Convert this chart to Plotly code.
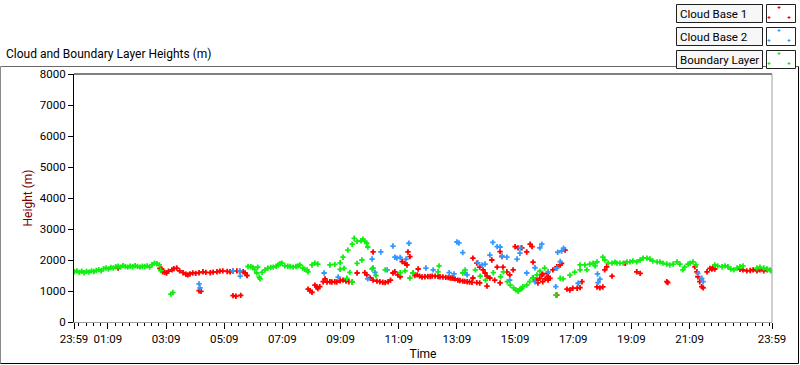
import plotly.graph_objects as go
import pandas as pd

# ---------------- data ----------------
DAY0 = "2020-01-01"
DAY1 = "2020-01-02"

series_names = ["Cloud Base 1", "Cloud Base 2", "Boundary Layer"]
series_colors = ["#ff0000", "#3399ff", "#11ee11"]

y_tick_values = [0, 1000, 2000, 3000, 4000, 5000, 6000, 7000, 8000]
x_tick_labels = ["23:59", "01:09", "03:09", "05:09", "07:09", "09:09", "11:09",
                 "13:09", "15:09", "17:09", "19:09", "21:09", "23:59"]

# Boundary Layer (green)
bl_times = [
    "00:00", "00:05", "00:10", "00:15", "00:20", "00:25", "00:30", "00:35", "00:40", "00:45",
    "00:50", "00:55", "01:00", "01:05", "01:10", "01:15", "01:20", "01:25", "01:30", "01:35",
    "01:40", "01:45", "01:50", "01:55", "02:00", "02:05", "02:10", "02:15", "02:20", "02:25",
    "02:30", "02:35", "02:40", "02:45", "02:50", "02:55", "02:58",
    "03:19", "03:23",
    "05:58", "06:04", "06:08", "06:12", "06:16", "06:18", "06:21", "06:23", "06:27", "06:33",
    "06:39", "06:45", "06:50", "06:56", "07:00", "07:04", "07:08", "07:14", "07:20", "07:25",
    "07:31", "07:37", "07:41", "07:45", "07:51", "07:55", "08:00", "08:02", "08:10", "08:16",
    "08:22",
    "08:47", "08:57", "09:08", "09:14", "09:24", "09:33", "09:37", "09:43", "09:51", "09:55",
    "09:59", "10:03", "10:05",
    "09:08", "09:16", "09:22", "09:28", "09:33", "09:43", "09:53", "10:14", "10:22",
    "10:41", "11:12", "11:22", "11:32", "11:38", "12:30", "12:32", "13:21", "13:26",
    "13:47", "13:57", "14:08", "14:24", "14:39", "14:45", "14:53", "14:59", "15:06", "15:10",
    "15:14", "15:16", "15:19", "15:23", "15:25", "15:33", "15:39", "15:45", "15:54", "16:00",
    "16:10",
    "16:33", "16:42", "16:48", "17:02", "17:12", "17:23", "17:23", "17:33", "17:37", "17:43",
    "17:50", "17:54", "17:58", "18:10", "18:14", "18:21", "18:29", "18:35", "18:39", "18:45",
    "18:52", "19:00", "19:06", "19:12", "19:20", "19:27", "19:33", "19:41", "19:47", "19:53",
    "20:02", "20:08", "20:14", "20:22", "20:28", "20:35", "20:43", "20:49", "20:55", "20:59",
    "21:06", "21:10", "21:16", "21:22",
    "22:01", "22:07", "22:16", "22:22", "22:28", "22:34", "22:40", "22:47", "22:53", "22:59",
    "23:28", "23:34", "23:42", "23:49", "23:55", "23:57",
]
bl_heights = [
    1620, 1650, 1600, 1640, 1590, 1630, 1610, 1650, 1630, 1660,
    1690, 1650, 1720, 1740, 1710, 1760, 1740, 1780, 1800, 1770,
    1820, 1790, 1770, 1800, 1780, 1820, 1790, 1770, 1800, 1790,
    1810, 1770, 1850, 1900, 1880, 1840, 1660,
    900, 950,
    1790, 1780, 1760, 1700, 1580, 1770, 1450, 1390, 1600, 1680,
    1740, 1760, 1770, 1800, 1840, 1880, 1900, 1810, 1800, 1790,
    1770, 1790, 1810, 1840, 1740, 1700, 1680, 1620, 1840, 1900,
    1870,
    1840, 1860, 1910, 2090, 2320, 2510, 2700, 2600, 2620, 2670,
    2600, 2540, 2420,
    1700, 1730, 1410, 1600, 1290, 1890, 2000, 1710, 1500,
    1680, 1590, 1650, 1420, 1580, 1620, 1810, 1580, 1680,
    1680, 1480, 1350, 1590, 1460, 1620, 1300, 1190, 1100, 1040,
    1010, 1000, 1060, 1080, 1140, 1190, 1300, 1420, 1520, 1640,
    1740,
    870, 1410, 1390, 1510, 1610, 1840, 1680, 1840, 1680, 1870,
    1900, 1810, 1940, 2090, 2000, 1900, 1900, 1930, 1900, 1900,
    1900, 1940, 1940, 1970, 1940, 2000, 2060, 2060, 2030, 1970,
    1940, 1940, 1900, 1870, 1840, 1870, 1940, 1870, 1680, 1770,
    1870, 1900, 1940, 1840,
    1840, 1810, 1780, 1810, 1780, 1710, 1680, 1740, 1780, 1810,
    1740, 1770, 1740, 1710, 1680, 1650,
]

# Cloud Base 1 (red)
cb1_times = [
    "01:30",
    "02:56", "03:00", "03:02", "03:06", "03:10", "03:14", "03:21", "03:25", "03:31", "03:37",
    "03:44", "03:50", "03:54", "03:58", "04:04", "04:10", "04:17", "04:25", "04:31", "04:40",
    "04:46", "04:54", "05:00", "05:06", "05:15", "05:21", "05:27", "05:35", "05:41", "05:48",
    "05:52", "05:56",
    "04:17", "04:21", "05:27", "05:33", "05:43",
    "08:02", "08:06", "08:10", "08:16", "08:20", "08:22", "08:26", "08:33", "08:37", "08:41",
    "08:47", "08:51", "08:57", "09:01", "09:08", "09:14", "09:20", "09:26",
    "09:33", "09:43", "09:59", "10:03", "10:10", "10:16", "10:16", "10:24", "10:30", "10:36",
    "10:41", "10:47", "10:52", "10:57", "11:01", "11:07", "11:12", "11:16", "11:22", "11:26",
    "11:28", "11:32", "11:38", "11:42", "11:47", "11:49", "11:52", "11:57", "12:03", "12:09",
    "12:14", "12:18", "12:24", "12:30", "12:34", "12:40", "12:46", "12:51", "12:55", "12:59",
    "13:01", "13:05", "13:11", "13:15", "13:21", "13:25", "13:30", "13:35", "13:40",
    "13:42", "13:42", "13:50", "13:50", "13:56", "13:56", "14:03", "14:07", "14:11", "14:11",
    "14:17", "14:21", "14:27", "14:32", "14:38", "14:38", "14:42", "14:44", "14:52", "14:58",
    "15:05", "15:09", "15:15", "15:23", "15:33", "15:40", "15:44", "15:46", "15:46", "15:54",
    "15:56", "16:04", "16:11", "16:17",
    "16:00", "16:06", "16:06", "16:15", "16:17", "16:21", "16:27", "16:35", "16:35", "16:42",
    "16:45", "16:52", "16:56", "17:02", "17:08", "17:17", "17:23", "17:27", "17:58", "18:04",
    "18:10", "18:14", "18:18", "18:29", "18:56", "19:20", "19:27", "20:22", "20:24",
    "21:20", "21:24", "21:26", "21:30", "21:34", "21:37", "21:45", "21:51", "21:55", "21:57",
    "22:01", "22:53", "22:59", "23:07", "23:14", "23:20", "23:28", "23:34", "23:42", "23:49",
]
cb1_heights = [
    1740,
    1730, 1710, 1620, 1600, 1580, 1640, 1680, 1720, 1740, 1650,
    1590, 1540, 1520, 1550, 1580, 1570, 1590, 1620, 1600, 1590,
    1610, 1620, 1640, 1650, 1630, 1620, 1640, 1650, 1630, 1620,
    1580, 1500,
    1010, 990, 850, 830, 860,
    1060, 1010, 960, 1190, 1130, 1080, 1140, 1300, 1390, 1290,
    1300, 1290, 1300, 1290, 1330, 1350, 1320, 1300,
    1290, 1580, 1590, 1520, 1420, 2260, 1350, 1320, 1300, 1280,
    1270, 1300, 1350, 1580, 1620, 1520, 1460, 1950, 1890, 1840,
    2260, 2110, 1580, 1500, 1520, 1710, 1480, 1450, 1460, 1470,
    1470, 1480, 1480, 1470, 1460, 1450, 1440, 1430, 1420, 1420,
    1410, 1390, 1350, 1340, 1320, 1310, 1300, 1290, 1280,
    2060, 1420, 1900, 1270, 1770, 1260, 1680, 1580, 1480, 1160,
    1420, 2000, 1350, 1770, 2270, 1260, 2110, 1770, 1620, 1520,
    1680, 2430, 2390, 2390, 2260, 2510, 2430, 1930, 1420, 1350,
    1260, 1520, 1390, 1460,
    1410, 1540, 1300, 1570, 1350, 1410, 1680, 1780, 870, 1840,
    1890, 2320, 1060, 1030, 1090, 1090, 1110, 1300, 1130, 1100,
    1130, 1680, 1780, 1480, 1890, 1620, 1570, 1300, 1270,
    1780, 1620, 1460, 1300, 1140, 1100, 1620, 1730, 1710, 1740,
    1710, 1700, 1680, 1650, 1660, 1680, 1650, 1680, 1650, 1680,
]

# Cloud Base 2 (blue)
cb2_times = [
    "04:17", "04:19", "05:27", "05:41", "05:42",
    "08:35", "09:04", "10:05", "10:14", "10:16", "10:20", "10:32", "10:45", "10:57", "11:01",
    "11:05", "11:12", "11:24", "11:30", "12:05", "12:20", "12:53", "13:03", "13:09", "13:13",
    "13:21", "13:26", "13:30",
    "13:52", "14:01", "14:07", "14:17", "14:23", "14:32", "14:38", "14:42", "14:52", "14:58",
    "15:13", "15:19", "15:20", "15:33", "15:50", "15:50", "16:00", "16:04", "16:17",
    "16:33", "16:35", "16:37", "16:42", "16:45", "16:49", "17:19", "17:59", "18:00", "18:04",
    "21:26", "21:34", "21:37",
]
cb2_heights = [
    1230, 1100, 1650, 1650, 1480,
    1580, 1450, 1390, 2030, 1740, 1600, 2260, 1680, 2450, 2090,
    2060, 2080, 2030, 2540, 1740, 1680, 1590, 1550, 2580, 2550,
    2240, 1590, 1520,
    1910, 1840, 1870, 2160, 2570, 2430, 2420, 2130, 2090, 1350,
    2030, 2220, 2390, 1580, 1750, 1300, 2390, 2510, 1620,
    1140, 1730, 2250, 1950, 2290, 2380, 1250, 1550, 1270, 1380,
    1570, 1410, 1300,
]

series_times = [cb1_times, cb2_times, bl_times]
series_heights = [cb1_heights, cb2_heights, bl_heights]

# ---------------- layout helpers ----------------
W, H = 800, 365
PL, PT, PR, PB = 74, 74, 772, 322   # plot area in pixels


def px(x):
    return (x - PL) / (PR - PL)


def py(y):
    return (PB - y) / (PB - PT)


def to_dt(t, day=DAY1):
    return pd.Timestamp(f"{day} {t}")


fig = go.Figure()
for name, color, ts, hs in zip(series_names, series_colors, series_times, series_heights):
    fig.add_trace(go.Scatter(
        x=[to_dt(t) for t in ts], y=hs, mode="markers", name=name,
        marker=dict(symbol="cross", size=4.5, color=color, line=dict(width=0)),
        showlegend=False,
    ))

tick_vals = [to_dt(x_tick_labels[0], DAY0)] + [to_dt(t) for t in x_tick_labels[1:]]

FONT = "Roboto"
fig.update_layout(
    width=W, height=H,
    margin=dict(l=PL, r=W - PR, t=PT, b=H - PB, autoexpand=False),
    paper_bgcolor="white", plot_bgcolor="white",
    font=dict(family=FONT, size=12, color="black"),
    xaxis=dict(
        type="date", range=[tick_vals[0], tick_vals[-1]],
        tickmode="array", tickvals=tick_vals, ticktext=x_tick_labels,
        ticks="outside", ticklen=6, tickcolor="black", tickwidth=1,
        showline=True, linecolor="#a0a0a0", linewidth=1,
        showgrid=False, zeroline=False,
        minor=dict(ticks="outside", ticklen=3, tickcolor="black", tickwidth=1,
                   tick0=f"{DAY1} 00:09", dtick=15 * 60 * 1000, showgrid=False),
        title=dict(text="Time", font=dict(size=12, color="black"), standoff=4),
        tickfont=dict(size=11.5),
    ),
    yaxis=dict(
        range=[0, 8000], tickmode="array", tickvals=y_tick_values,
        ticks="outside", ticklen=5, tickcolor="black",
        showline=True, linecolor="black", linewidth=1,
        showgrid=False, zeroline=False,
        title=dict(text="Height (m)", font=dict(size=12, color="#7a0000"), standoff=4),
        tickfont=dict(size=11.5),
    ),
)

shapes = []
# plot frame: top black, right grey
shapes.append(dict(type="line", xref="paper", yref="paper", x0=0, x1=1, y0=1, y1=1,
                   line=dict(color="black", width=1)))
shapes.append(dict(type="line", xref="paper", yref="paper", x0=1, x1=1, y0=0, y1=1,
                   line=dict(color="#a0a0a0", width=1)))
# outer frame: grey top/left, black bottom/right
shapes.append(dict(type="line", xref="paper", yref="paper", x0=px(0.5), x1=px(798.5),
                   y0=py(66.5), y1=py(66.5), line=dict(color="#6a6a6a", width=1), layer="below"))
shapes.append(dict(type="line", xref="paper", yref="paper", x0=px(0.5), x1=px(0.5),
                   y0=py(66.5), y1=py(363.5), line=dict(color="#8a8a8a", width=1), layer="below"))
shapes.append(dict(type="line", xref="paper", yref="paper", x0=px(0.5), x1=px(798.5),
                   y0=py(363.5), y1=py(363.5), line=dict(color="black", width=1), layer="below"))
shapes.append(dict(type="line", xref="paper", yref="paper", x0=px(798.5), x1=px(798.5),
                   y0=py(66.5), y1=py(363.5), line=dict(color="black", width=1), layer="below"))

annotations = [dict(text="Cloud and Boundary Layer Heights (m)", xref="paper", yref="paper",
                    x=px(4), y=py(54), xanchor="left", yanchor="middle", showarrow=False,
                    font=dict(size=12, color="black"))]

# legend boxes
leg_tops = [4, 27, 50]
cross_offsets = [(13, 3.5), (3, 13.5), (23, 13.5)]
for name, color, top in zip(series_names, series_colors, leg_tops):
    bot = top + 18
    shapes.append(dict(type="rect", xref="paper", yref="paper", x0=px(676.5), x1=px(762.5),
                       y0=py(bot + 0.5), y1=py(top + 0.5), line=dict(color="#202020", width=1),
                       fillcolor="#f7f7f7"))
    shapes.append(dict(type="rect", xref="paper", yref="paper", x0=px(766.5), x1=px(795.5),
                       y0=py(bot + 0.5), y1=py(top + 0.5), line=dict(color="#202020", width=1),
                       fillcolor="white"))
    annotations.append(dict(text=name, xref="paper", yref="paper", x=px(678), y=py(top + 9.5),
                            xanchor="left", yanchor="middle", showarrow=False,
                            font=dict(size=11.5, color="black")))
    for dx, dy in cross_offsets:
        cx, cy = 766 + dx, top + dy
        shapes.append(dict(type="line", xref="paper", yref="paper", x0=px(cx - 1.5), x1=px(cx + 1.5),
                           y0=py(cy), y1=py(cy), line=dict(color=color, width=1)))
        shapes.append(dict(type="line", xref="paper", yref="paper", x0=px(cx), x1=px(cx),
                           y0=py(cy - 1.5), y1=py(cy + 1.5), line=dict(color=color, width=1)))

fig.update_layout(shapes=shapes, annotations=annotations)
fig.write_html("out.html", config={"displayModeBar": False},
               post_script="document.body.style.margin='0px';")
